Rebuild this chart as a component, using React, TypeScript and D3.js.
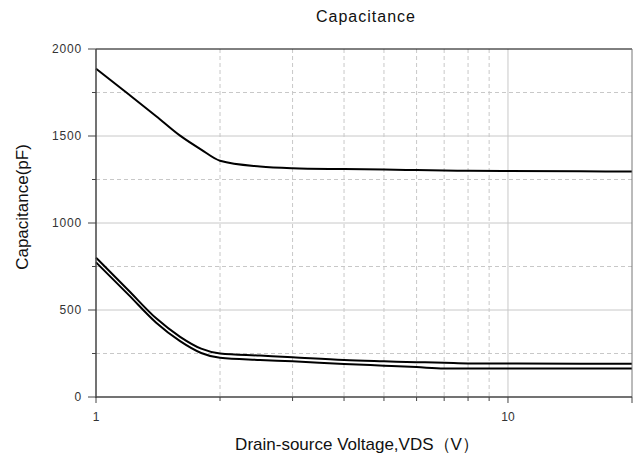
import * as d3 from "d3";

// VDS sample points (V) and capacitances (pF)
const vds = [1, 1.2, 1.4, 1.6, 1.8, 2, 2.5, 3, 4, 5, 6, 7, 8, 10, 15, 20];
const ciss = [1887, 1740, 1614, 1502, 1422, 1358, 1325, 1315, 1310, 1307, 1304, 1302, 1300, 1299, 1297, 1296];
const coss = [801, 612, 452, 346, 278, 250, 238, 228, 212, 205, 200, 197, 193, 192, 191, 191];
const crss = [774, 587, 427, 321, 253, 225, 213, 205, 190, 180, 172, 164, 164, 164, 164, 164];

const xMajorTicks = [1, 10];
const xMinorTicks = [2, 3, 4, 5, 6, 7, 8, 9];
const yMajorTicks = [0, 500, 1000, 1500, 2000];
const yMinorTicks = [250, 750, 1250, 1750];

const W = 636;
const H = 461;
const M = { left: 96, right: 632, top: 49, bottom: 397 };
const FONT = "'Liberation Sans', Arial, sans-serif";

export default function App() {
  const x = d3.scaleLog().domain([1, 20]).range([M.left, M.right]);
  const y = d3.scaleLinear().domain([0, 2000]).range([M.bottom, M.top]);

  const line = d3
    .line<number>()
    .x((_, i) => x(vds[i]))
    .y((d) => y(d))
    .curve(d3.curveMonotoneX);

  const series = [ciss, coss, crss];

  return (
    <svg
      width={W}
      height={H}
      style={{ position: "absolute", left: 0, top: 0, background: "#fff" }}
      fontFamily={FONT}
    >
      <rect width={W} height={H} fill="#fff" />

      {/* grid */}
      {xMinorTicks.map((t) => (
        <line key={"gx" + t} x1={x(t)} x2={x(t)} y1={M.top} y2={M.bottom}
          stroke="#c8c8c8" strokeDasharray="4,3" />
      ))}
      <line x1={x(10)} x2={x(10)} y1={M.top} y2={M.bottom} stroke="#c8c8c8" />
      {yMinorTicks.map((t) => (
        <line key={"gy" + t} x1={M.left} x2={M.right} y1={y(t)} y2={y(t)}
          stroke="#c8c8c8" strokeDasharray="4,3" />
      ))}
      {yMajorTicks.slice(1, -1).map((t) => (
        <line key={"gY" + t} x1={M.left} x2={M.right} y1={y(t)} y2={y(t)} stroke="#c8c8c8" />
      ))}

      {/* curves */}
      {series.map((s, i) => (
        <path key={"s" + i} d={line(s) ?? ""} fill="none" stroke="#000" strokeWidth={2} />
      ))}

      {/* frame */}
      <line x1={M.left} x2={M.right} y1={M.top} y2={M.top} stroke="#000" />
      <line x1={M.right} x2={M.right} y1={M.top} y2={M.bottom} stroke="#777" />
      <line x1={M.left} x2={M.left} y1={M.top} y2={M.bottom + 1} stroke="#444" strokeWidth={1.5} />
      <line x1={M.left} x2={M.right} y1={M.bottom} y2={M.bottom} stroke="#444" strokeWidth={1.5} />

      {/* x ticks */}
      {xMinorTicks.map((t) => (
        <line key={"tx" + t} x1={x(t)} x2={x(t)} y1={M.bottom} y2={M.bottom + 4} stroke="#444" />
      ))}
      {[...xMajorTicks, 20].map((t) => (
        <line key={"tX" + t} x1={x(t)} x2={x(t)} y1={M.bottom} y2={M.bottom + 6} stroke="#444" />
      ))}
      {xMajorTicks.map((t) => (
        <text key={"lx" + t} x={x(t)} y={421} textAnchor="middle" fontSize={12} fill="#333">
          {t}
        </text>
      ))}

      {/* y ticks */}
      {yMinorTicks.map((t) => (
        <line key={"ty" + t} x1={M.left - 4} x2={M.left} y1={y(t)} y2={y(t)} stroke="#444" />
      ))}
      {yMajorTicks.map((t) => (
        <line key={"tY" + t} x1={M.left - 8} x2={M.left} y1={y(t)} y2={y(t)} stroke="#444" />
      ))}
      {yMajorTicks.map((t) => (
        <text key={"ly" + t} x={82} y={y(t)} dy="0.34em" textAnchor="end" fontSize={12}
          letterSpacing={0.8} fill="#333">
          {t}
        </text>
      ))}

      {/* titles */}
      <text x={366} y={22} textAnchor="middle" fontSize={16} letterSpacing={1} fill="#111">
        Capacitance
      </text>
      <text x={357} y={450} textAnchor="middle" fontSize={17} fill="#111">
        Drain-source Voltage,VDS（V）
      </text>
      <text transform="translate(28,207) rotate(-90)" textAnchor="middle" fontSize={17} fill="#111">
        Capacitance(pF)
      </text>
    </svg>
  );
}
